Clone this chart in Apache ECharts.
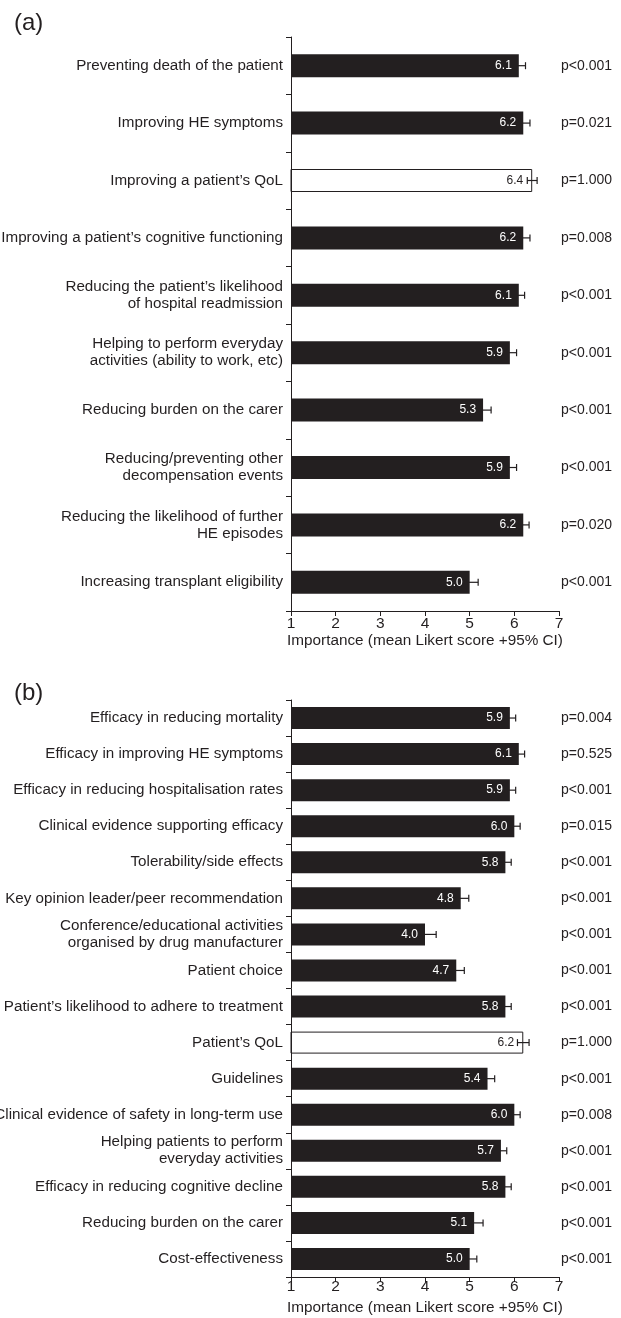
<!DOCTYPE html>
<html>
<head>
<meta charset="utf-8">
<script src="https://cdn.jsdelivr.net/npm/echarts@6/dist/echarts.min.js"></script>
<style>
html,body{margin:0;padding:0;background:#fff;}
#chart{width:621px;height:1318px;}
</style>
</head>
<body>
<div id="chart"></div>
<script>
// panel (a)
var catsA = ['Preventing death of the patient', 'Improving HE symptoms', 'Improving a patient\u2019s QoL',
	'Improving a patient\u2019s cognitive functioning', 'Reducing the patient\u2019s likelihood\nof hospital readmission',
	'Helping to perform everyday\nactivities (ability to work, etc)', 'Reducing burden on the carer',
	'Reducing/preventing other\ndecompensation events', 'Reducing the likelihood of further\nHE episodes',
	'Increasing transplant eligibility'];
var meansA = [6.1, 6.2, 6.4, 6.2, 6.1, 5.9, 5.3, 5.9, 6.2, 5.0];
var ciA = [0.15, 0.15, 0.11, 0.15, 0.13, 0.15, 0.18, 0.15, 0.13, 0.19];
var pA = ['p<0.001', 'p=0.021', 'p=1.000', 'p=0.008', 'p<0.001', 'p<0.001', 'p<0.001', 'p<0.001', 'p=0.020', 'p<0.001'];
var refA = 2;

// panel (b)
var catsB = ['Efficacy in reducing mortality', 'Efficacy in improving HE symptoms', 'Efficacy in reducing hospitalisation rates',
	'Clinical evidence supporting efficacy', 'Tolerability/side effects', 'Key opinion leader/peer recommendation',
	'Conference/educational activities\norganised by drug manufacturer', 'Patient choice',
	'Patient\u2019s likelihood to adhere to treatment', 'Patient\u2019s QoL', 'Guidelines',
	'Clinical evidence of safety in long-term use', 'Helping patients to perform\neveryday activities',
	'Efficacy in reducing cognitive decline', 'Reducing burden on the carer', 'Cost-effectiveness'];
var meansB = [5.9, 6.1, 5.9, 6.0, 5.8, 4.8, 4.0, 4.7, 5.8, 6.2, 5.4, 6.0, 5.7, 5.8, 5.1, 5.0];
var ciB = [0.13, 0.13, 0.13, 0.13, 0.13, 0.18, 0.25, 0.18, 0.13, 0.13, 0.16, 0.13, 0.13, 0.13, 0.2, 0.16];
var pB = ['p=0.004', 'p=0.525', 'p<0.001', 'p=0.015', 'p<0.001', 'p<0.001', 'p<0.001', 'p<0.001',
	'p<0.001', 'p=1.000', 'p<0.001', 'p=0.008', 'p<0.001', 'p<0.001', 'p<0.001', 'p<0.001'];
var refB = 9;

var xTicks = [1, 2, 3, 4, 5, 6, 7];
var xName = 'Importance (mean Likert score +95% CI)';

var FONT = '"Liberation Sans", Arial, Helvetica, sans-serif';
var DARK = '#231f20';
var TXT = '#231f20';

var myChart = echarts.init(document.getElementById('chart'));

function barData(means, ref) {
	var out = [];
	for (var i = 0; i < means.length; i++) {
		if (i == ref) {
			// transparent fill so the lower whisker shows through, like the reference
			out.push({
				value: means[i],
				itemStyle: { color: 'rgba(255,255,255,0)', borderColor: DARK, borderWidth: 1 },
				label: { color: TXT, distance: 9 }
			});
		} else {
			out.push(means[i]);
		}
	}
	return out;
}

function errData(means, ci) {
	var out = [];
	for (var i = 0; i < means.length; i++) {
		out.push([i, means[i] - ci[i], means[i] + ci[i]]);
	}
	return out;
}

function renderErr(params, api) {
	var idx = api.value(0);
	var lo = api.coord([api.value(1), idx]);
	var hi = api.coord([api.value(2), idx]);
	var st = { stroke: DARK, lineWidth: 1.2 };
	return {
		type: 'group',
		children: [
			{ type: 'line', shape: { x1: lo[0], y1: lo[1], x2: hi[0], y2: hi[1] }, style: st },
			{ type: 'line', shape: { x1: lo[0], y1: lo[1] - 3.5, x2: lo[0], y2: lo[1] + 3.5 }, style: st },
			{ type: 'line', shape: { x1: hi[0], y1: hi[1] - 3.5, x2: hi[0], y2: hi[1] + 3.5 }, style: st }
		]
	};
}

function xAxisOpt(gridIndex, margin, gap) {
	return {
		gridIndex: gridIndex,
		type: 'value',
		min: xTicks[0],
		max: xTicks[xTicks.length - 1],
		interval: 1,
		name: xName,
		nameLocation: 'middle',
		nameGap: gap,
		nameTextStyle: { fontFamily: FONT, fontSize: 15.3, color: TXT },
		splitLine: { show: false },
		axisLine: { show: true, lineStyle: { color: DARK, width: 1 } },
		axisTick: { show: true, length: 5, lineStyle: { color: DARK } },
		axisLabel: { fontFamily: FONT, fontSize: 15.5, color: TXT, margin: margin }
	};
}

function yAxisOpt(gridIndex, cats) {
	return {
		gridIndex: gridIndex,
		type: 'category',
		inverse: true,
		data: cats,
		axisLine: { show: true, lineStyle: { color: DARK, width: 1 } },
		axisTick: { show: true, length: 5, lineStyle: { color: DARK } },
		axisLabel: { fontFamily: FONT, fontSize: 15.2, color: TXT, margin: 8, lineHeight: 17, align: 'right' }
	};
}

function pAxisOpt(gridIndex, pv) {
	return {
		gridIndex: gridIndex,
		type: 'category',
		inverse: true,
		position: 'right',
		data: pv,
		axisLine: { show: false },
		axisTick: { show: false },
		axisLabel: { fontFamily: FONT, fontSize: 14, color: TXT, margin: 2, align: 'left' }
	};
}

var labelOpt = {
	show: true,
	position: 'insideRight',
	distance: 7,
	fontFamily: FONT,
	fontSize: 12,
	color: '#fff',
	formatter: function (p) { return p.value.toFixed(1); }
};

var option = {
	animation: false,
	backgroundColor: '#fff',
	title: [
		{ text: '(a)', left: 9, top: 6, textStyle: { fontFamily: FONT, fontSize: 24, fontWeight: 'normal', color: TXT } },
		{ text: '(b)', left: 9, top: 676, textStyle: { fontFamily: FONT, fontSize: 24, fontWeight: 'normal', color: TXT } }
	],
	grid: [
		{ left: 291, right: 62, top: 37, height: 574, containLabel: false, outerBoundsMode: 'none' },
		{ left: 291, right: 62, top: 700, height: 577, containLabel: false, outerBoundsMode: 'none' }
	],
	xAxis: [xAxisOpt(0, 5, 22), xAxisOpt(1, 2, 23)],
	yAxis: [yAxisOpt(0, catsA), yAxisOpt(1, catsB), pAxisOpt(0, pA), pAxisOpt(1, pB)],
	series: [
		{
			type: 'custom', xAxisIndex: 0, yAxisIndex: 0, z: 1,
			renderItem: renderErr, encode: { y: 0, x: [1, 2] },
			data: errData(meansA, ciA)
		},
		{
			type: 'custom', xAxisIndex: 1, yAxisIndex: 1, z: 1,
			renderItem: renderErr, encode: { y: 0, x: [1, 2] },
			data: errData(meansB, ciB)
		},
		{
			type: 'bar', xAxisIndex: 0, yAxisIndex: 0, barWidth: 23, z: 2,
			itemStyle: { color: DARK }, label: labelOpt,
			data: barData(meansA, refA)
		},
		{
			type: 'bar', xAxisIndex: 1, yAxisIndex: 1, barWidth: 22, z: 2,
			itemStyle: { color: DARK }, label: labelOpt,
			data: barData(meansB, refB)
		}
	]
};
myChart.setOption(option);
</script>
</body>
</html>
